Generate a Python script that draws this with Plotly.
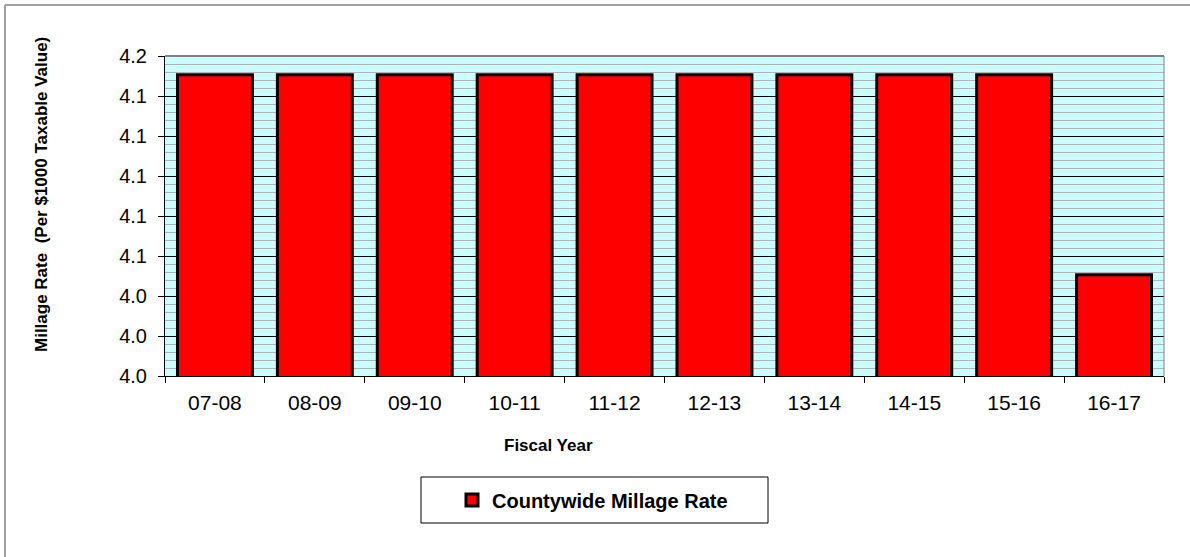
import plotly.graph_objects as go

# Countywide millage rate by fiscal year
fiscal_years = ["07-08", "08-09", "09-10", "10-11", "11-12",
                "12-13", "13-14", "14-15", "15-16", "16-17"]
millage_rate = [4.1506, 4.1506, 4.1506, 4.1506, 4.1506,
                4.1506, 4.1506, 4.1506, 4.1506, 4.0506]

series_name = "Countywide Millage Rate"
x_title = "Fiscal Year"
y_title = "Millage Rate \u00a0(Per $1000 Taxable Value)"

FONT = "Liberation Sans, Arial, sans-serif"

W, H = 1190, 557
L, R, T, B = 165, 26, 56, 181
pw, ph = W - L - R, H - T - B


def px_x(px):
    return (px - L) / pw


def px_y(py):
    return (H - B - py) / ph


fig = go.Figure()
fig.add_trace(go.Bar(
    x=fiscal_years,
    y=millage_rate,
    name=series_name,
    marker=dict(color="#FF0000", line=dict(color="#000000", width=3)),
    showlegend=True,
))

fig.update_layout(
    width=W, height=H,
    margin=dict(l=L, r=R, t=T, b=B, pad=0),
    paper_bgcolor="#FFFFFF",
    plot_bgcolor="#CCFFFF",
    bargap=0.25,
    font=dict(family=FONT, color="#000000"),
    showlegend=True,
    legend=dict(
        orientation="h",
        x=px_x(452), xanchor="left",
        y=px_y(500), yanchor="middle",
        bgcolor="rgba(0,0,0,0)",
        borderwidth=0,
        font=dict(family=FONT, size=20, color="#000000", weight="bold"),
    ),
    xaxis=dict(
        type="category",
        range=[-0.5, len(fiscal_years) - 0.5],
        showline=True, linecolor="#000000", linewidth=1,
        ticks="outside", ticklen=6, tickcolor="#000000",
        tickson="boundaries",
        showgrid=False, zeroline=False,
        tickfont=dict(family=FONT, size=21, color="#000000"),
        ticklabelstandoff=8,
        fixedrange=True,
    ),
    yaxis=dict(
        range=[4.0, 4.16],
        tick0=4.0, dtick=0.02, tickformat=".1f",
        showline=True, linecolor="#000000", linewidth=1,
        ticks="outside", ticklen=6, tickcolor="#000000",
        showgrid=True, gridcolor="#000000", gridwidth=1,
        minor=dict(dtick=0.004, showgrid=True, gridcolor="#B4B4B4", gridwidth=1),
        zeroline=False,
        tickfont=dict(family=FONT, size=20, color="#000000"),
        ticklabelstandoff=7,
        fixedrange=True,
    ),
    shapes=[
        # plot area border (top and right)
        dict(type="line", xref="paper", yref="paper", x0=0, x1=1, y0=1, y1=1,
             line=dict(color="#808080", width=2)),
        dict(type="line", xref="paper", yref="paper", x0=1, x1=1, y0=0, y1=1,
             line=dict(color="#808080", width=1)),
        # chart frame
        dict(type="line", xref="paper", yref="paper",
             x0=px_x(5), x1=px_x(W + 5), y0=px_y(5), y1=px_y(5),
             line=dict(color="#A0A0A0", width=2)),
        dict(type="line", xref="paper", yref="paper",
             x0=px_x(5), x1=px_x(5), y0=px_y(5), y1=px_y(H + 5),
             line=dict(color="#A0A0A0", width=2)),
        # legend box
        dict(type="rect", xref="paper", yref="paper",
             x0=px_x(421), x1=px_x(768), y0=px_y(477), y1=px_y(523),
             line=dict(color="#000000", width=1), fillcolor="rgba(0,0,0,0)"),
    ],
    annotations=[
        dict(text=x_title, xref="paper", yref="paper",
             x=px_x(548), y=px_y(445), xanchor="center", yanchor="middle",
             showarrow=False,
             font=dict(family=FONT, size=17, color="#000000", weight="bold")),
        dict(text=y_title, xref="paper", yref="paper",
             x=px_x(41), y=px_y(195), xanchor="center", yanchor="middle",
             textangle=-90, showarrow=False,
             font=dict(family=FONT, size=17, color="#000000", weight="bold")),
    ],
)

fig.write_html("out.html")
